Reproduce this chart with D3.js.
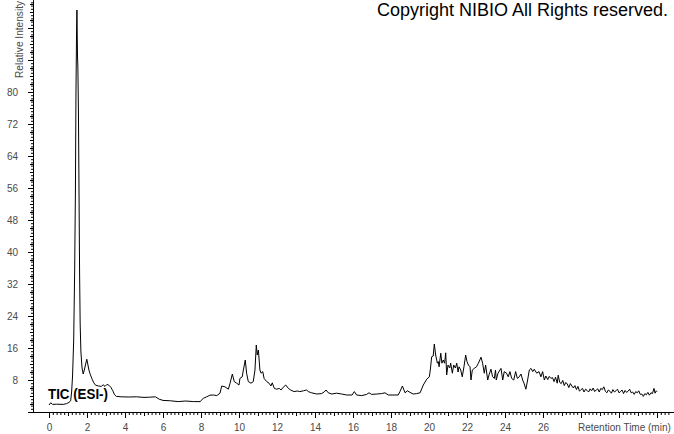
<!DOCTYPE html>
<html>
<head>
<meta charset="utf-8">
<script src="https://cdn.jsdelivr.net/npm/d3@7"></script>
<style>
  html, body { margin: 0; padding: 0; background: #fff; }
  svg { display: block; }
  .tick text { font-family: "Liberation Sans", Arial, sans-serif; }
</style>
</head>
<body>
<svg id="chart" width="674" height="434"></svg>
<script>
// ---- data (retention time in min, relative intensity in %) ----
const times = [
  0, 0.09, 0.19, 0.4, 0.75, 0.93, 1.05, 1.14, 1.19, 1.24, 1.3, 1.35, 1.39, 1.42, 1.45, 1.47,
  1.5, 1.52, 1.55, 1.58, 1.61, 1.64, 1.68, 1.74, 1.8, 1.86, 1.93, 1.99, 2.04, 2.1, 2.18, 2.27,
  2.36, 2.45, 2.6, 2.75, 2.85, 2.95, 3.05, 3.15, 3.25, 3.35, 3.45, 3.55, 3.8, 4.2, 4.6, 5.0,
  5.3, 5.6, 5.8, 6.0, 6.4, 6.8, 7.2, 7.6, 7.95, 8.12, 8.3, 8.47, 8.65, 8.83, 9.0, 9.09,
  9.26, 9.44, 9.53, 9.65, 9.75, 9.88, 10.0, 10.05, 10.17, 10.23, 10.33, 10.4, 10.49, 10.63, 10.75, 10.84,
  10.91, 10.96, 11.02, 11.1, 11.16, 11.25, 11.32, 11.46, 11.58, 11.68, 11.75, 11.86, 11.98, 12.12, 12.21, 12.33,
  12.46, 12.6, 12.72, 12.9, 13.07, 13.2, 13.39, 13.56, 13.65, 13.82, 14.09, 14.35, 14.48, 14.58, 14.7, 14.88,
  15.14, 15.4, 15.67, 15.95, 16.07, 16.19, 16.46, 16.72, 16.84, 16.98, 17.25, 17.5, 17.68, 17.86, 18.38, 18.47,
  18.6, 18.74, 18.86, 19.0, 19.17, 19.35, 19.53, 19.7, 19.88, 20.02, 20.08, 20.14, 20.22, 20.28, 20.35, 20.44,
  20.49, 20.53, 20.62, 20.68, 20.75, 20.82, 20.88, 20.93, 21.0, 21.09, 21.14, 21.23, 21.3, 21.39, 21.46, 21.53,
  21.58, 21.67, 21.75, 21.84, 21.93, 22.0, 22.07, 22.16, 22.21, 22.28, 22.38, 22.5, 22.6, 22.74, 22.82, 22.91,
  22.98, 23.09, 23.16, 23.26, 23.35, 23.44, 23.5, 23.54, 23.63, 23.79, 23.88, 23.96, 24.08, 24.17, 24.26, 24.35,
  24.46, 24.56, 24.65, 24.75, 24.84, 24.93, 25.0, 25.1, 25.19, 25.28, 25.37, 25.46, 25.54, 25.67, 25.79, 25.89,
  25.98, 26.07, 26.15, 26.25, 26.33, 26.42, 26.5, 26.58, 26.66, 26.75, 26.8, 26.88, 26.96, 27.04, 27.12, 27.2,
  27.28, 27.36, 27.44, 27.52, 27.6, 27.68, 27.76, 27.84, 27.92, 28.0, 28.08, 28.16, 28.24, 28.32, 28.4, 28.48,
  28.56, 28.64, 28.72, 28.8, 28.88, 28.96, 29.04, 29.12, 29.2, 29.28, 29.36, 29.44, 29.52, 29.6, 29.68, 29.76,
  29.84, 29.92, 30.0, 30.08, 30.16, 30.24, 30.32, 30.4, 30.48, 30.56, 30.64, 30.72, 30.8, 30.88, 30.96, 31.04,
  31.12, 31.2, 31.28, 31.36, 31.44, 31.52, 31.6, 31.68, 31.76, 31.84, 31.9, 31.96, 32.0
];
const intensity = [
  1.75, 2.3, 1.9, 1.95, 1.9, 2.1, 2.4, 2.8, 5, 9, 18, 35, 55, 80, 95, 100.5,
  89, 86, 75, 55, 35, 22, 15, 11, 9.5, 10.5, 12, 13.2, 12, 10.5, 9.3, 8.2,
  7.3, 6.7, 6.5, 6.4, 6.8, 6.4, 6.9, 6.7, 6.2, 5.4, 4.3, 3.9, 3.8, 3.75, 3.8, 3.65,
  3.7, 3.8, 3.2, 2.9, 2.8, 2.6, 2.75, 2.6, 2.6, 3.4, 3.8, 4.2, 4.25, 4.1, 4.7, 6.5,
  6.3, 5.7, 7.2, 9.5, 7.6, 7.2, 6.75, 8.4, 8.8, 10.5, 13, 9.7, 7.6, 7.2, 7.6, 10.5,
  16.75, 14.25, 15.5, 10.5, 9.7, 10.1, 8.4, 7.6, 7.2, 6.5, 7.3, 5.9, 5.7, 5.9, 5.5, 6.2,
  6.75, 5.9, 5.5, 5.1, 5.25, 5.1, 5.3, 5.5, 5.1, 4.8, 4.5, 4.6, 5.0, 5.5, 4.8, 4.5,
  4.7, 4.5, 4.25, 4.25, 5.1, 4.25, 4.1, 4.4, 4.8, 4.4, 4.5, 4.6, 4.8, 4.25, 4.25, 5.1,
  6.5, 4.8, 5.3, 4.9, 4.5, 4.6, 4.8, 6.75, 8.2, 8.8, 11, 13.8, 14, 17, 14.25, 12.2,
  12.6, 11.3, 14.7, 12.2, 13, 12.2, 14.8, 9.25, 11.75, 11, 12.2, 9.7, 11.75, 11, 12.2, 10,
  11.3, 10.5, 8.8, 11.3, 14.25, 12.6, 11.75, 11.3, 8, 10.5, 10.9, 11.3, 12.2, 13.7, 12.2, 9.7,
  11.75, 8, 9.3, 10.7, 8.8, 8.4, 10.5, 8, 9.7, 10.9, 8, 10.1, 9.7, 8.8, 10.1, 8.4,
  8, 10.1, 8.4, 8.8, 9.5, 8, 7.2, 5.7, 8, 10.5, 10.9, 10.1, 10.7, 9.7, 10.1, 8.8,
  10.1, 8, 9.0, 8.1, 8.9, 8.4, 8.6, 7.6, 8.7, 7.2, 9.2, 7.4, 7.1, 7.9, 6.6, 7.4,
  7.0, 6.1, 7.1, 6.5, 6.0, 6.6, 5.6, 6.4, 5.2, 5.6, 5.9, 5.0, 5.7, 5.4, 5.0, 5.8,
  5.3, 6.0, 5.1, 5.5, 5.8, 5.0, 5.9, 5.6, 6.3, 5.2, 4.8, 5.5, 5.2, 4.7, 5.6, 5.0,
  5.3, 5.7, 4.8, 5.1, 5.5, 4.6, 5.4, 4.9, 5.2, 5.7, 4.8, 5.0, 4.4, 5.1, 4.8, 5.3,
  4.4, 4.5, 3.9, 4.6, 4.3, 4.9, 4.2, 4.8, 4.6, 5.9, 4.7, 5.3, 5.1
];
const xTickLabels = [0, 2, 4, 6, 8, 10, 12, 14, 16, 18, 20, 22, 24, 26];
const yTickLabels = [8, 16, 24, 32, 40, 48, 56, 64, 72, 80];
const traceName = "TIC (ESI-)";
const xTitle = "Retention Time (min)";
const yTitle = "Relative Intensity";
const copyright = "Copyright NIBIO All Rights reserved.";

// ---- layout ----
const svg = d3.select("#chart");
svg.append("rect").attr("width", 674).attr("height", 434).attr("fill", "#fff");

const x = d3.scaleLinear().domain([-16 / 19, 625 / 19]).range([33, 674]);
const y = d3.scaleLinear().domain([0, 103]).range([412, 0]);

const labelColor = "#4a4a4a";
const font = "'Liberation Sans', Arial, sans-serif";

function styleAxis(g) {
  g.select(".domain").attr("stroke", "#000");
  g.selectAll(".tick line").attr("stroke", "#000");
  g.selectAll(".tick text").attr("fill", labelColor).attr("font-size", 10).attr("font-family", font);
}

// x axis: minor, medium, major
svg.append("g").attr("transform", "translate(0,412)")
  .call(d3.axisBottom(x).tickValues(d3.range(0, 164).map(i => i * 0.2)).tickSize(3).tickSizeOuter(0).tickFormat(""))
  .call(styleAxis);
svg.append("g").attr("transform", "translate(0,412)")
  .call(d3.axisBottom(x).tickValues(d3.range(0, 33)).tickSize(4).tickSizeOuter(0).tickFormat(""))
  .call(styleAxis);
svg.append("g").attr("transform", "translate(0,412)")
  .call(d3.axisBottom(x).tickValues(xTickLabels.concat([28, 30, 32])).tickSize(6).tickPadding(6).tickSizeOuter(0)
    .tickFormat(d => xTickLabels.includes(d) ? d : ""))
  .call(styleAxis);

// y axis: minor, medium, major
svg.append("g").attr("transform", "translate(33,0)")
  .call(d3.axisLeft(y).tickValues(d3.range(0, 129).map(i => i * 0.8)).tickSize(2).tickSizeOuter(0).tickFormat(""))
  .call(styleAxis);
svg.append("g").attr("transform", "translate(33,0)")
  .call(d3.axisLeft(y).tickValues(d3.range(0, 52).map(i => i * 2)).tickSize(3).tickSizeOuter(0).tickFormat(""))
  .call(styleAxis);
svg.append("g").attr("transform", "translate(33,0)")
  .call(d3.axisLeft(y).tickValues(d3.range(0, 13).map(i => i * 8)).tickSize(5).tickPadding(10).tickSizeOuter(0)
    .tickFormat(d => yTickLabels.includes(d) ? d : ""))
  .call(styleAxis);

// trace
const data = times.map((t, i) => ({ t, v: intensity[i] }));
svg.append("path")
  .datum(data)
  .attr("fill", "none")
  .attr("stroke", "#000")
  .attr("stroke-width", 1)
  .attr("stroke-linejoin", "miter")
  .attr("d", d3.line().x(d => x(d.t)).y(d => y(d.v)));

// texts
svg.append("text")
  .attr("x", 48).attr("y", 398.5)
  .attr("font-family", font).attr("font-weight", "bold").attr("font-size", 14)
  .attr("textLength", 60).attr("lengthAdjust", "spacingAndGlyphs")
  .attr("fill", "#000")
  .text(traceName);

svg.append("text")
  .attr("x", 578).attr("y", 431)
  .attr("font-family", font).attr("font-size", 10)
  .attr("fill", labelColor)
  .text(xTitle);

svg.append("text")
  .attr("transform", "translate(23,78) rotate(-90)")
  .attr("font-family", font).attr("font-size", 10)
  .attr("textLength", 77).attr("lengthAdjust", "spacingAndGlyphs")
  .attr("fill", labelColor)
  .text(yTitle);

svg.append("text")
  .attr("x", 377).attr("y", 16)
  .attr("font-family", font).attr("font-size", 18)
  .attr("fill", "#000")
  .text(copyright);
</script>
</body>
</html>
